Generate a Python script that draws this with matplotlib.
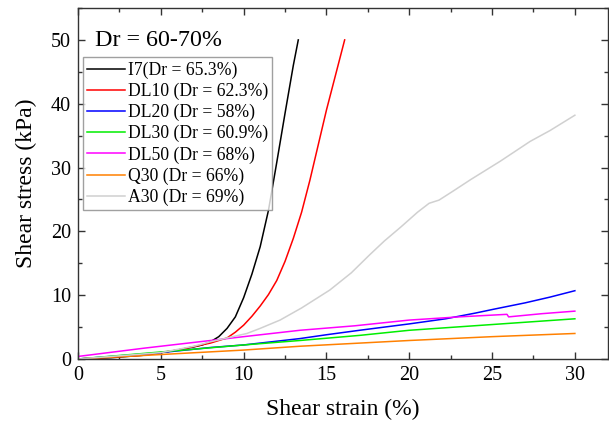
import numpy as np
import matplotlib.pyplot as plt
from matplotlib.ticker import MultipleLocator

plt.rcParams['font.family'] = ['Liberation Serif', 'DejaVu Serif']
plt.rcParams['mathtext.fontset'] = 'stix'

# values (shear strain %, shear stress kPa)
i7_x = [0, 2, 4, 5, 6, 7, 7.5, 8, 8.5, 9, 9.5, 10, 10.5, 11, 11.5, 12, 12.5, 13, 13.3]
i7_y = [0, 0.2, 0.6, 1.0, 1.4, 1.9, 2.2, 2.7, 3.5, 4.8, 6.6, 9.6, 13.3, 17.6, 23.3, 30.8, 38.5, 46.0, 50.0]

dl10_x = [0, 4, 6, 8, 8.5, 9, 9.5, 10, 10.5, 11, 11.5, 12, 12.5, 13, 13.5, 14, 14.5, 15, 15.5, 16.1]
dl10_y = [0, 0.6, 1.4, 2.5, 2.9, 3.3, 4.2, 5.3, 6.7, 8.3, 10.1, 12.3, 15.3, 18.9, 23.0, 28.0, 33.5, 39.0, 44.0, 50.0]

dl20_x = [0, 3, 5, 8, 10, 13.4, 15, 17, 20, 22.2, 24, 25.1, 27, 28.5, 30]
dl20_y = [0, 0.6, 1.0, 1.8, 2.2, 3.2, 3.8, 4.5, 5.5, 6.3, 7.2, 7.8, 8.8, 9.7, 10.7]

dl30_x = [0, 5, 10, 13.4, 17, 20, 25, 30]
dl30_y = [0, 1.1, 2.2, 2.9, 3.7, 4.5, 5.4, 6.3]

dl50_x = [0, 4, 8, 10, 13.4, 16.7, 20, 23, 25.9, 26.0, 28, 30]
dl50_y = [0.4, 1.7, 2.9, 3.5, 4.5, 5.2, 6.1, 6.6, 7.0, 6.6, 7.1, 7.5]

q30_x = [0, 5, 10, 13.4, 20, 25, 30]
q30_y = [0, 0.7, 1.4, 2.0, 2.9, 3.5, 4.0]

a30_x = [0, 5, 7, 8, 9, 10.2, 11, 12.2, 13.5, 15.2, 16.5, 17.6, 18.5, 19.5, 20.5,
         21.2, 21.8, 22.7, 23.7, 25.5, 27.3, 28.5, 30]
a30_y = [0, 1.0, 2.0, 2.7, 3.3, 4.0, 4.8, 6.1, 8.0, 10.8, 13.5, 16.3, 18.5, 20.7, 23.0,
         24.4, 24.9, 26.4, 28.1, 31.0, 34.1, 35.8, 38.2]

series = [
    (i7_x, i7_y, '#000000', 'I7(Dr = 65.3%)'),
    (dl10_x, dl10_y, '#ff0000', 'DL10 (Dr = 62.3%)'),
    (dl20_x, dl20_y, '#0000ff', 'DL20 (Dr = 58%)'),
    (dl30_x, dl30_y, '#00ee00', 'DL30 (Dr = 60.9%)'),
    (dl50_x, dl50_y, '#ff00ff', 'DL50 (Dr = 68%)'),
    (q30_x, q30_y, '#ff8000', 'Q30 (Dr = 66%)'),
    (a30_x, a30_y, '#d0d0d0', 'A30 (Dr = 69%)'),
]

fig = plt.figure(figsize=(6.09, 4.28), dpi=100)
ax = fig.add_axes([78 / 609, 69 / 428, 530 / 609, 351 / 428])

for x, y, c, lab in series:
    ax.plot(x, y, color=c, lw=1.1, label=lab)

ax.set_xlim(0, 32)
ax.set_ylim(0, 55)
ax.xaxis.set_major_locator(MultipleLocator(5))
ax.xaxis.set_minor_locator(MultipleLocator(2.5))
ax.yaxis.set_major_locator(MultipleLocator(10))
ax.yaxis.set_minor_locator(MultipleLocator(5))
ax.tick_params(which='both', direction='in', top=True, right=True,
               labelsize=14.5, width=1, color='#333333')
ax.tick_params(which='major', length=5, pad=5)
ax.tick_params(which='minor', length=3)
for s in ax.spines.values():
    s.set_color('#333333')
    s.set_linewidth(1)

ax.set_xlabel('Shear strain (%)', fontsize=17, labelpad=10)
ax.set_ylabel('Shear stress (kPa)', fontsize=17, labelpad=10)

ax.text(0.032, 0.892, 'Dr = 60-70%', transform=ax.transAxes, fontsize=17.3,
        va='baseline')

leg = ax.legend(loc='upper left', bbox_to_anchor=(0.009, 0.86), fontsize=12.7,
                frameon=True, fancybox=False, edgecolor='#888888',
                handlelength=2.15, labelspacing=0.22, borderpad=0.25,
                handletextpad=0.15, borderaxespad=0)
leg.get_frame().set_linewidth(1)

fig.savefig('out.png', dpi=100)
